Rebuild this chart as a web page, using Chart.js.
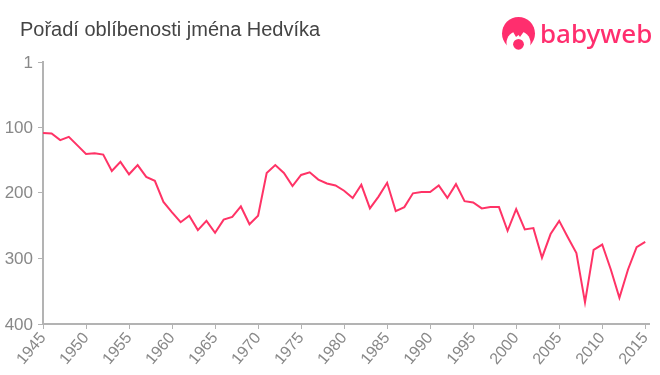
<!DOCTYPE html>
<html>
<head>
<meta charset="utf-8">
<script src="https://cdn.jsdelivr.net/npm/chart.js@4"></script>
<style>
  html, body { margin: 0; padding: 0; background: #fff; }
  #wrap { width: 660px; height: 375px; }
</style>
</head>
<body>
<div id="wrap"><canvas id="rankChart" width="660" height="375"></canvas></div>
<script>
const years = [1945,1946,1947,1948,1949,1950,1951,1952,1953,1954,1955,1956,1957,1958,1959,1960,1961,1962,1963,1964,1965,1966,1967,1968,1969,1970,1971,1972,1973,1974,1975,1976,1977,1978,1979,1980,1981,1982,1983,1984,1985,1986,1987,1988,1989,1990,1991,1992,1993,1994,1995,1996,1997,1998,1999,2000,2001,2002,2003,2004,2005,2006,2007,2008,2009,2010,2011,2012,2013,2014,2015];
const ranks = [109,110,120,115,128,141,140,142,167,153,172,158,176,182,214,230,245,235,257,243,261,241,237,221,248,235,170,158,170,190,173,169,180,186,189,197,208,188,224,206,185,228,222,201,199,199,189,208,187,213,215,224,222,222,258,225,256,254,299,263,243,268,292,367,287,279,317,360,317,283,275];
const xTicks = [1945,1950,1955,1960,1965,1970,1975,1980,1985,1990,1995,2000,2005,2010,2015];
const yTicks = [1, 100, 200, 300, 400];
const titleText = "Pořadí oblíbenosti jména Hedvíka";
const logoText = "babyweb";

const pink = "#ff2e6e";

// logo top right, no image available so it is drawn on the canvas
const logoPlugin = {
    id: "logo",
    afterLayout(chart) {
        // title sits left of the plot area
        chart.titleBlock.left = 20;
    },
    beforeDraw(chart) {
        // nudge y labels down onto their ticks
        chart.scales.y.getLabelItems().forEach(item => { item.options.translation[1] += 1; });
    },
    afterDraw(chart) {
        const c = chart.ctx;
        c.save();
        c.fillStyle = pink;
        c.beginPath();
        c.arc(518.5, 33.5, 16.5, 0, Math.PI * 2);
        c.fill();
        c.fillStyle = "#fff";
        c.beginPath();
        c.arc(518.5, 43, 12, 0, Math.PI * 2);
        c.fill();
        c.fillRect(500, 47, 37, 6);
        c.fillStyle = pink;
        c.beginPath();
        c.moveTo(512, 30);
        c.lineTo(525, 30);
        c.lineTo(520, 37);
        c.lineTo(518.5, 35);
        c.lineTo(516, 37);
        c.fill();
        c.beginPath();
        c.arc(518.5, 44.3, 5.4, 0, Math.PI * 2);
        c.fill();
        c.font = "500 26px 'Noto Sans'";
        c.textBaseline = "alphabetic";
        c.fillText(logoText, 540, 43);
        c.restore();
    }
};

new Chart(document.getElementById("rankChart"), {
    type: "line",
    data: {
        datasets: [{
            data: years.map((y, i) => ({ x: y, y: ranks[i] })),
            borderColor: "#ff3366",
            borderWidth: 2,
            pointRadius: 0,
            tension: 0
        }]
    },
    plugins: [logoPlugin],
    options: {
        responsive: false,
        animation: false,
        layout: { padding: { left: 0, right: 10.5 } },
        plugins: {
            legend: { display: false },
            tooltip: { enabled: false },
            title: {
                display: true,
                text: titleText,
                align: "start",
                color: "#444444",
                font: { family: "'Liberation Sans'", size: 20, weight: "normal" },
                padding: { top: 18, bottom: 20 }
            }
        },
        scales: {
            x: {
                type: "linear",
                min: 1945,
                max: 2015.44,
                afterFit(scale) { scale.height = 51; },
                afterBuildTicks(scale) { scale.ticks = xTicks.map(v => ({ value: v })); },
                ticks: {
                    minRotation: 50,
                    maxRotation: 50,
                    padding: 0,
                    color: "#888888",
                    font: { family: "'Liberation Sans'", size: 16 },
                    callback: v => String(v)
                },
                grid: { drawOnChartArea: false, color: "#b3b3b3", lineWidth: 1, tickLength: 5 },
                border: { color: "#b3b3b3", width: 2 }
            },
            y: {
                type: "linear",
                reverse: true,
                min: 1,
                max: 400,
                afterFit(scale) { scale.width = 43; },
                afterBuildTicks(scale) { scale.ticks = yTicks.map(v => ({ value: v })); },
                ticks: {
                    padding: 5,
                    color: "#888888",
                    font: { family: "'Liberation Sans'", size: 17 },
                    callback: v => String(v)
                },
                grid: { drawOnChartArea: false, color: "#b3b3b3", lineWidth: 1, tickLength: 5 },
                border: { color: "#b3b3b3", width: 2 }
            }
        }
    }
});
</script>
</body>
</html>
